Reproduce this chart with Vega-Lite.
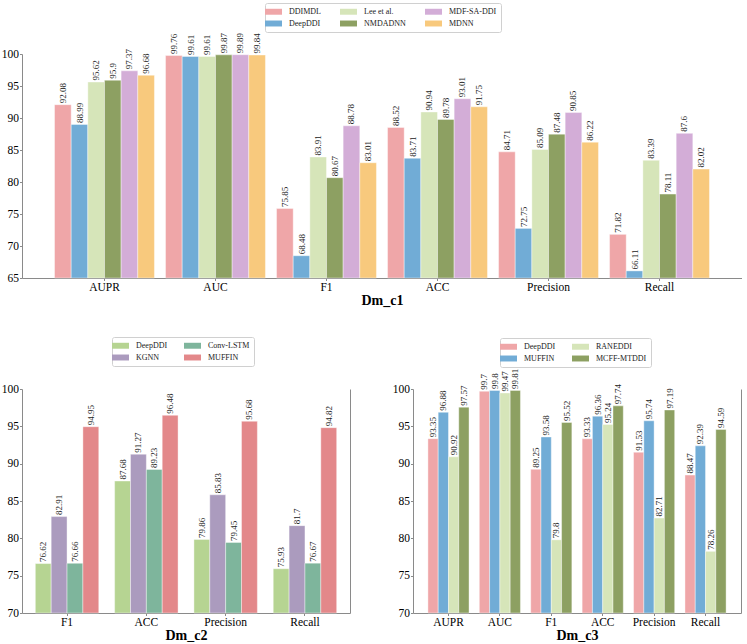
{
  "$schema": "https://vega.github.io/schema/vega-lite/v6.json",
  "padding": {"left": 1, "top": 2, "right": 0, "bottom": 0},
  "background": "white",
  "config": {
    "view": {"stroke": null},
    "font": "Liberation Serif",
    "axis": {"grid": false, "domainColor": "#8a8a8a", "tickColor": "#8a8a8a", "tickSize": 2.5, "labelColor": "#000", "labelFont": "Liberation Serif", "labelFontSize": 11.5, "labelPadding": 1, "titleFont": "Liberation Serif", "titleFontWeight": "bold", "titleFontSize": 14, "titleColor": "#000"},
    "legend": {"labelFont": "Liberation Serif", "labelFontSize": 8, "labelColor": "#222", "symbolType": "M-2,-0.7H2V0.7H-2Z", "symbolSize": 72.25, "symbolStrokeWidth": 0, "symbolOpacity": 1, "labelOffset": 11, "strokeColor": "#d0d0d0", "fillColor": "white", "cornerRadius": 2, "padding": 4, "rowPadding": 3, "title": null, "orient": "none"}
  },
  "datasets": {
    "c1": [
      {"metric": "AUPR", "model": "DDIMDL", "value": 92.08},
      {"metric": "AUPR", "model": "DeepDDI", "value": 88.99},
      {"metric": "AUPR", "model": "Lee et al.", "value": 95.62},
      {"metric": "AUPR", "model": "NMDADNN", "value": 95.9},
      {"metric": "AUPR", "model": "MDF-SA-DDI", "value": 97.37},
      {"metric": "AUPR", "model": "MDNN", "value": 96.68},
      {"metric": "AUC", "model": "DDIMDL", "value": 99.76},
      {"metric": "AUC", "model": "DeepDDI", "value": 99.61},
      {"metric": "AUC", "model": "Lee et al.", "value": 99.61},
      {"metric": "AUC", "model": "NMDADNN", "value": 99.87},
      {"metric": "AUC", "model": "MDF-SA-DDI", "value": 99.89},
      {"metric": "AUC", "model": "MDNN", "value": 99.84},
      {"metric": "F1", "model": "DDIMDL", "value": 75.85},
      {"metric": "F1", "model": "DeepDDI", "value": 68.48},
      {"metric": "F1", "model": "Lee et al.", "value": 83.91},
      {"metric": "F1", "model": "NMDADNN", "value": 80.67},
      {"metric": "F1", "model": "MDF-SA-DDI", "value": 88.78},
      {"metric": "F1", "model": "MDNN", "value": 83.01},
      {"metric": "ACC", "model": "DDIMDL", "value": 88.52},
      {"metric": "ACC", "model": "DeepDDI", "value": 83.71},
      {"metric": "ACC", "model": "Lee et al.", "value": 90.94},
      {"metric": "ACC", "model": "NMDADNN", "value": 89.78},
      {"metric": "ACC", "model": "MDF-SA-DDI", "value": 93.01},
      {"metric": "ACC", "model": "MDNN", "value": 91.75},
      {"metric": "Precision", "model": "DDIMDL", "value": 84.71},
      {"metric": "Precision", "model": "DeepDDI", "value": 72.75},
      {"metric": "Precision", "model": "Lee et al.", "value": 85.09},
      {"metric": "Precision", "model": "NMDADNN", "value": 87.48},
      {"metric": "Precision", "model": "MDF-SA-DDI", "value": 90.85},
      {"metric": "Precision", "model": "MDNN", "value": 86.22},
      {"metric": "Recall", "model": "DDIMDL", "value": 71.82},
      {"metric": "Recall", "model": "DeepDDI", "value": 66.11},
      {"metric": "Recall", "model": "Lee et al.", "value": 83.39},
      {"metric": "Recall", "model": "NMDADNN", "value": 78.11},
      {"metric": "Recall", "model": "MDF-SA-DDI", "value": 87.6},
      {"metric": "Recall", "model": "MDNN", "value": 82.02}
    ],
    "c2": [
      {"metric": "F1", "model": "DeepDDI", "value": 76.62},
      {"metric": "F1", "model": "KGNN", "value": 82.91},
      {"metric": "F1", "model": "Conv-LSTM", "value": 76.66},
      {"metric": "F1", "model": "MUFFIN", "value": 94.95},
      {"metric": "ACC", "model": "DeepDDI", "value": 87.68},
      {"metric": "ACC", "model": "KGNN", "value": 91.27},
      {"metric": "ACC", "model": "Conv-LSTM", "value": 89.23},
      {"metric": "ACC", "model": "MUFFIN", "value": 96.48},
      {"metric": "Precision", "model": "DeepDDI", "value": 79.86},
      {"metric": "Precision", "model": "KGNN", "value": 85.83},
      {"metric": "Precision", "model": "Conv-LSTM", "value": 79.45},
      {"metric": "Precision", "model": "MUFFIN", "value": 95.68},
      {"metric": "Recall", "model": "DeepDDI", "value": 75.93},
      {"metric": "Recall", "model": "KGNN", "value": 81.7},
      {"metric": "Recall", "model": "Conv-LSTM", "value": 76.67},
      {"metric": "Recall", "model": "MUFFIN", "value": 94.82}
    ],
    "c3": [
      {"metric": "AUPR", "model": "DeepDDI", "value": 93.35},
      {"metric": "AUPR", "model": "MUFFIN", "value": 96.88},
      {"metric": "AUPR", "model": "RANEDDI", "value": 90.92},
      {"metric": "AUPR", "model": "MCFF-MTDDI", "value": 97.57},
      {"metric": "AUC", "model": "DeepDDI", "value": 99.7},
      {"metric": "AUC", "model": "MUFFIN", "value": 99.8},
      {"metric": "AUC", "model": "RANEDDI", "value": 99.47},
      {"metric": "AUC", "model": "MCFF-MTDDI", "value": 99.81},
      {"metric": "F1", "model": "DeepDDI", "value": 89.25},
      {"metric": "F1", "model": "MUFFIN", "value": 93.58},
      {"metric": "F1", "model": "RANEDDI", "value": 79.8},
      {"metric": "F1", "model": "MCFF-MTDDI", "value": 95.52},
      {"metric": "ACC", "model": "DeepDDI", "value": 93.33},
      {"metric": "ACC", "model": "MUFFIN", "value": 96.36},
      {"metric": "ACC", "model": "RANEDDI", "value": 95.24},
      {"metric": "ACC", "model": "MCFF-MTDDI", "value": 97.74},
      {"metric": "Precision", "model": "DeepDDI", "value": 91.53},
      {"metric": "Precision", "model": "MUFFIN", "value": 95.74},
      {"metric": "Precision", "model": "RANEDDI", "value": 82.71},
      {"metric": "Precision", "model": "MCFF-MTDDI", "value": 97.19},
      {"metric": "Recall", "model": "DeepDDI", "value": 88.47},
      {"metric": "Recall", "model": "MUFFIN", "value": 92.39},
      {"metric": "Recall", "model": "RANEDDI", "value": 78.26},
      {"metric": "Recall", "model": "MCFF-MTDDI", "value": 94.59}
    ]
  },
  "vconcat": [
    {
      "width": 720, "height": 224,
      "data": {"name": "c1"},
      "encoding": {
        "x": {"field": "metric", "type": "nominal", "sort": ["AUPR", "AUC", "F1", "ACC", "Precision", "Recall"], "scale": {"paddingInner": 0.1, "paddingOuter": 0.293}, "axis": {"labelAngle": 0, "title": "Dm_c1", "titlePadding": 0}},
        "xOffset": {"field": "model", "type": "nominal", "scale": {"domain": ["DDIMDL", "DeepDDI", "Lee et al.", "NMDADNN", "MDF-SA-DDI", "MDNN"]}}
      },
      "layer": [
        {
          "mark": {"type": "bar", "stroke": "white", "strokeWidth": 0.4},
          "encoding": {
            "y": {"field": "value", "type": "quantitative", "scale": {"domain": [65, 100], "nice": false, "zero": false}, "axis": {"values": [65, 70, 75, 80, 85, 90, 95, 100], "title": null}},
            "y2": {"datum": 65},
            "color": {"field": "model", "type": "nominal",
              "scale": {"domain": ["DDIMDL", "DeepDDI", "Lee et al.", "NMDADNN", "MDF-SA-DDI", "MDNN"], "range": ["#EFA6A8", "#71ACD6", "#D6E5B9", "#8DA062", "#D3ADD7", "#F8C97D"]},
              "legend": {"orient": "none", "legendX": 243, "legendY": -51, "columns": 3, "columnPadding": 19}}
          }
        },
        {
          "mark": {"type": "text", "angle": 270, "align": "left", "baseline": "middle", "dx": 1.5, "font": "Liberation Serif", "fontSize": 9, "color": "#222"},
          "encoding": {
            "y": {"field": "value", "type": "quantitative", "axis": {"orient": "right", "labels": false, "ticks": false, "title": null}},
            "text": {"field": "value", "type": "nominal"}
          }
        }
      ],
      "resolve": {"axis": {"y": "independent"}}
    },
    {
      "hconcat": [
        {
          "width": 328, "height": 224,
          "data": {"name": "c2"},
          "encoding": {
            "x": {"field": "metric", "type": "nominal", "sort": ["F1", "ACC", "Precision", "Recall"], "scale": {"paddingInner": 0.2, "paddingOuter": 0.168}, "axis": {"labelAngle": 0, "title": "Dm_c2", "titlePadding": 0}},
            "xOffset": {"field": "model", "type": "nominal", "scale": {"domain": ["DeepDDI", "KGNN", "Conv-LSTM", "MUFFIN"]}}
          },
          "layer": [
            {
              "mark": {"type": "bar", "stroke": "white", "strokeWidth": 0.4},
              "encoding": {
                "y": {"field": "value", "type": "quantitative", "scale": {"domain": [70, 100], "nice": false, "zero": false}, "axis": {"values": [70, 75, 80, 85, 90, 95, 100], "title": null}},
                "y2": {"datum": 70},
                "color": {"field": "model", "type": "nominal",
                  "scale": {"domain": ["DeepDDI", "KGNN", "Conv-LSTM", "MUFFIN"], "range": ["#B6D492", "#AB9BBE", "#7EB59C", "#E3888A"]},
                  "legend": {"orient": "none", "legendX": 90, "legendY": -52, "columns": 2, "columnPadding": 16}}
              }
            },
            {
              "mark": {"type": "text", "angle": 270, "align": "left", "baseline": "middle", "dx": 1.5, "font": "Liberation Serif", "fontSize": 9, "color": "#222"},
              "encoding": {
                "y": {"field": "value", "type": "quantitative", "axis": {"orient": "right", "labels": false, "ticks": false, "title": null}},
                "text": {"field": "value", "type": "nominal"}
              }
            }
          ],
          "resolve": {"axis": {"y": "independent"}}
        },
        {
          "width": 328, "height": 224,
          "data": {"name": "c3"},
          "encoding": {
            "x": {"field": "metric", "type": "nominal", "sort": ["AUPR", "AUC", "F1", "ACC", "Precision", "Recall"], "scale": {"paddingInner": 0.2, "paddingOuter": 0.29}, "axis": {"labelAngle": 0, "title": "Dm_c3", "titlePadding": 0}},
            "xOffset": {"field": "model", "type": "nominal", "scale": {"domain": ["DeepDDI", "MUFFIN", "RANEDDI", "MCFF-MTDDI"]}}
          },
          "layer": [
            {
              "mark": {"type": "bar", "stroke": "white", "strokeWidth": 0.4},
              "encoding": {
                "y": {"field": "value", "type": "quantitative", "scale": {"domain": [70, 100], "nice": false, "zero": false}, "axis": {"values": [70, 75, 80, 85, 90, 95, 100], "title": null}},
                "y2": {"datum": 70},
                "color": {"field": "model", "type": "nominal",
                  "scale": {"domain": ["DeepDDI", "MUFFIN", "RANEDDI", "MCFF-MTDDI"], "range": ["#EFA6A8", "#71ACD6", "#D6E5B9", "#8DA062"]},
                  "legend": {"orient": "none", "legendX": 87, "legendY": -51, "columns": 2, "columnPadding": 16}}
              }
            },
            {
              "mark": {"type": "text", "angle": 270, "align": "left", "baseline": "middle", "dx": 1.5, "font": "Liberation Serif", "fontSize": 9, "color": "#222"},
              "encoding": {
                "y": {"field": "value", "type": "quantitative", "axis": {"orient": "right", "labels": false, "ticks": false, "title": null}},
                "text": {"field": "value", "type": "nominal"}
              }
            }
          ],
          "resolve": {"axis": {"y": "independent"}}
        }
      ],
      "spacing": 42,
      "resolve": {"scale": {"color": "independent", "xOffset": "independent", "x": "independent"}, "legend": {"color": "independent"}}
    }
  ],
  "spacing": 29,
  "resolve": {"scale": {"color": "independent", "xOffset": "independent", "x": "independent"}, "legend": {"color": "independent"}}
}
